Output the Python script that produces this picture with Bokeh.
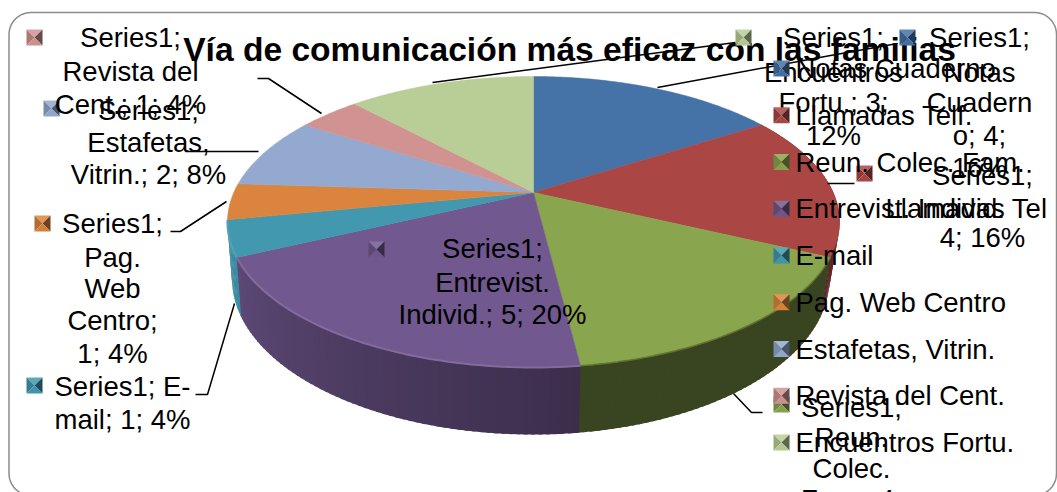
import math
from bokeh.plotting import figure
from bokeh.models import Range1d
from bokeh.core.properties import value
from bokeh.embed import file_html
from bokeh.resources import INLINE

# ---- data ----
categories = ["Notas Cuaderno", "Llamadas Telf.", "Reun. Colec. Fam.", "Entrevist. Individ.",
              "E-mail", "Pag. Web Centro", "Estafetas, Vitrin.", "Revista del Cent.", "Encuentros Fortu."]
values = [4, 4, 4, 5, 1, 1, 2, 1, 3]
colors = ["#4572a7", "#aa4643", "#89a54e", "#71588f", "#4198af", "#db843d", "#93a9cf", "#d19392", "#b9cd96"]
title = "Vía de comunicación más eficaz con las familias"

# ---- data label texts (line-wrapped as in the picture) ----
label_lines = [
    ["Series1;", "Notas", "Cuadern", "o; 4;", "16%"],
    ["Series1;", "Llamadas Tel", "4; 16%"],
    ["Series1;", "Reun.", "Colec.", "Fam.; 4;"],
    ["Series1;", "Entrevist.", "Individ.; 5; 20%"],
    ["Series1; E-", "mail; 1; 4%"],
    ["Series1;", "Pag.", "Web", "Centro;", "1; 4%"],
    ["Series1;", "Estafetas,", "Vitrin.; 2; 8%"],
    ["Series1;", "Revista del", "Cent.; 1; 4%"],
    ["Series1;", "Encuentros", "Fortu.; 3;", "12%"],
]

# ---- layout (page pixels) ----
label_x = [[979] * 5, [982, 966, 982], [851] * 4, [492] * 3, [122] * 2, [112] * 5, [148] * 3, [130] * 3, [833] * 4]
label_y = [[37, 72, 102, 135, 167], [175, 208, 237], [407, 437, 468, 499], [248, 282, 314],
           [386, 419], [223, 257, 288, 320, 353], [110, 142, 174], [37, 71, 104], [37, 72, 102, 135]]
label_marker = [(907, 37), (864, 173), (781, 404), (376, 249), (34, 385), (42, 223), (51, 108), (34, 37), (743, 37)]
leaders = [
    ([657, 830, 897], [87, 55, 43]),
    ([827, 854], [183, 183]),
    ([733, 751, 762], [393, 412, 412]),
    ([195, 207, 234], [394, 394, 303]),
    ([170, 180, 226], [231, 231, 201]),
    ([185, 258], [151, 151]),
    ([257, 268, 321], [78, 78, 113]),
    ([432, 735], [82, 42]),
]
legend_x, legend_text_x, legend_y0, legend_dy = 781, 795, 68, 46.75

FS = "27.5px"
FONT = value("Liberation Sans")
CX, CY = 533, 192     # apex of the pie on the page
A, B, K = 299.7, 139.5, 0.2026   # perspective of the disc
BCY, BSX_R, BSX_L, BSY = 280, 0.967, 0.985, 1.07  # the lower rim


def top_pt(t):
    w = 1 + K * math.cos(t)
    return CX + A * math.sin(t) / w, CY - B * math.cos(t) / w


def bottom_pt(t):
    x, y = top_pt(t)
    s = BSX_R if x >= CX else BSX_L
    return CX + s * (x - CX), BCY + BSY * (y - (CY + 31))


def mix(c, f):
    r, g, b = int(c[1:3], 16), int(c[3:5], 16), int(c[5:7], 16)
    if f <= 1:
        r, g, b = r * f, g * f, b * f
    else:
        k = f - 1
        r, g, b = r + (255 - r) * k, g + (255 - g) * k, b + (255 - b) * k
    return "#%02x%02x%02x" % (int(r), int(g), int(b))


W, H = 1057, 492
p = figure(width=W, height=H, output_backend="svg", toolbar_location=None,
           x_range=Range1d(0, W), y_range=Range1d(H, 0), min_border=0)
p.axis.visible = False
p.grid.visible = False
p.outline_line_color = None
p.background_fill_color = "white"
p.border_fill_color = "white"

# rounded frame
fx0, fx1, fy0, fy1, fr = 8.5, 1056, 12, 495, 22
fxs, fys = [], []
for (cx, cy, a0) in [(fx0 + fr, fy0 + fr, 180), (fx1 - fr, fy0 + fr, 270), (fx1 - fr, fy1 - fr, 0), (fx0 + fr, fy1 - fr, 90)]:
    for i in range(13):
        a = math.radians(a0 + i * 7.5)
        fxs.append(cx + fr * math.cos(a))
        fys.append(cy + fr * math.sin(a))
fxs.append(fxs[0]); fys.append(fys[0])
p.line(fxs, fys, line_color="#8c8c8c", line_width=1.5)

# angular extents
total = sum(values)
edges = [0.0]
for v in values:
    edges.append(edges[-1] + v / total * 2 * math.pi)

# side wall: darkness of each slice at its start and end angle
wall_shade = [(0.6, 0.6), (0.6, 0.55), (0.42, 0.42), (0.53, 0.83), (0.92, 0.92), (0.9, 0.9), (0.9, 0.9), (0.9, 0.9), (0.9, 0.9)]
for i, c in enumerate(colors):
    t0, t1 = edges[i], edges[i + 1]
    if t0 > 1.43 * math.pi or t1 < 0.4 * math.pi:
        continue
    n = max(2, int((t1 - t0) / 0.02))
    xs, ys, fc = [], [], []
    for j in range(n):
        a, b = t0 + (t1 - t0) * j / n, t0 + (t1 - t0) * (j + 1) / n + 0.01
        xa, ya = top_pt(a); xb, yb = top_pt(b)
        xc, yc = bottom_pt(b); xd, yd = bottom_pt(a)
        xs.append([xa, xb, xc, xd]); ys.append([ya, yb, yc, yd])
        f = wall_shade[i][0] + (wall_shade[i][1] - wall_shade[i][0]) * j / n
        fc.append(mix(c, f))
    p.patches(xs, ys, fill_color=fc, line_color=None)

# top surface
for i, c in enumerate(colors):
    t0, t1 = edges[i], edges[i + 1]
    n = max(8, int((t1 - t0) / 0.01))
    pts = [top_pt(t0 + (t1 - t0) * j / n) for j in range(n + 1)]
    xs = [CX] + [q[0] for q in pts]
    ys = [CY] + [q[1] for q in pts]
    p.patch(xs, ys, fill_color=c, line_color=c, line_width=0.5)

# lit rim on the front slices
rim_mix = {2: 1.0, 3: 1.12, 4: 1.1}
for i, f in rim_mix.items():
    t0, t1 = edges[i], edges[i + 1]
    n = 60
    pts = [top_pt(t0 + (t1 - t0) * j / n) for j in range(n + 1)]
    if i == 2:
        p.line([q[0] for q in pts], [q[1] for q in pts], line_color="#5f7335", line_width=1.5)
    else:
        p.line([q[0] for q in pts], [q[1] for q in pts], line_color=mix(colors[i], f), line_width=2)

# title
p.text([569], [49], text=[title], text_font=FONT, text_font_size="33.6px", text_font_style="bold",
       text_align="center", text_baseline="middle", text_color="black")

# leaders
p.multi_line([l[0] for l in leaders], [l[1] for l in leaders], line_color="black", line_width=1.5)


def bevel(x, y, c, s=8):
    tri = [
        ([x - s, x + s, x], [y - s, y - s, y], mix(c, 1.15)),
        ([x - s, x, x - s], [y - s, y, y + s], mix(c, 0.82)),
        ([x + s, x, x + s], [y - s, y, y + s], mix(c, 0.5)),
        ([x - s, x + s, x], [y + s, y + s, y], mix(c, 0.98)),
    ]
    p.patches([t[0] for t in tri], [t[1] for t in tri], fill_color=[t[2] for t in tri], line_color=None)


# data labels
for i, lines in enumerate(label_lines):
    bevel(label_marker[i][0], label_marker[i][1], colors[i])
    p.text(label_x[i], label_y[i], text=lines, text_font=FONT, text_font_size=FS,
           text_align="center", text_baseline="middle", text_color="black")

# legend
for i, name in enumerate(categories):
    y = legend_y0 + i * legend_dy
    bevel(legend_x, y, colors[i])
    p.text([legend_text_x], [y], text=[name], text_font=FONT, text_font_size=FS,
           text_align="left", text_baseline="middle", text_color="black")

open("out.html", "w").write(file_html(p, INLINE))
